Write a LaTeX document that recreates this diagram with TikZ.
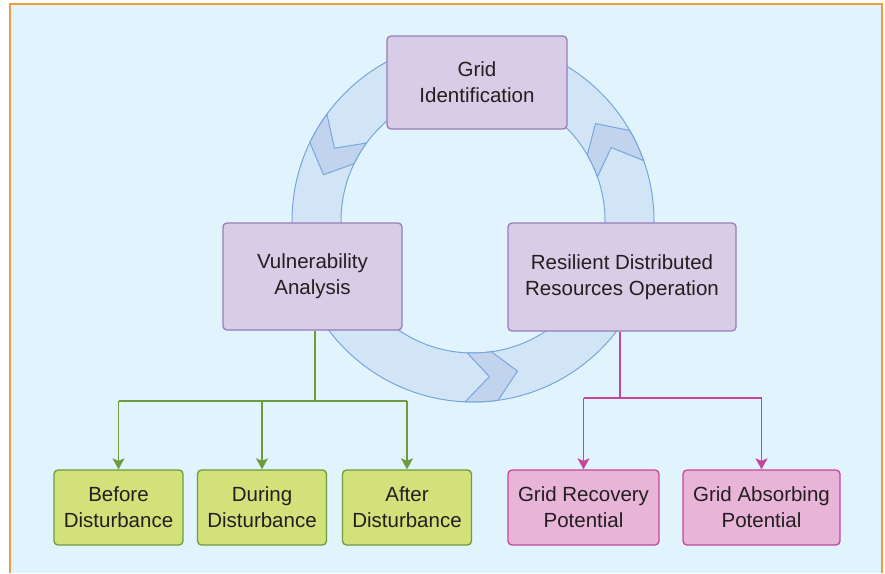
\documentclass[tikz,border=0pt]{standalone}
\usepackage{fontspec}
\setmainfont{Liberation Sans}
\usetikzlibrary{arrows.meta}
\definecolor{bg}{HTML}{E1F3FD}
\definecolor{framec}{HTML}{F69A3F}
\definecolor{ringfill}{HTML}{D2E5F6}
\definecolor{ringline}{HTML}{78A6DB}
\definecolor{chevfill}{HTML}{C2D3EE}
\definecolor{lavfill}{HTML}{D8CCE6}
\definecolor{lavline}{HTML}{9A7DBA}
\definecolor{grfill}{HTML}{D3E17A}
\definecolor{grline}{HTML}{6C9C3C}
\definecolor{pkfill}{HTML}{E8B4D8}
\definecolor{pkline}{HTML}{C4479C}
\definecolor{txt}{HTML}{231F20}
\newcommand\mychev[1]{\filldraw[fill=chevfill, draw=ringline, line width=1pt, line join=round]
  (#1:132) -- ({#1+8.5}:156.5) -- (#1:181)
  arc[start angle=#1, end angle={#1+10.5}, radius=181]
  -- ({#1+19}:156.5) -- ({#1+10.5}:132)
  arc[start angle={#1+10.5}, end angle=#1, radius=132] -- cycle;}
\begin{document}
\begin{tikzpicture}[x=1pt,y=-1pt,
  box/.style={draw, line width=1.3pt, rounded corners=4pt, align=center, inner sep=0pt,
    text=txt, font=\fontsize{20.5}{26}\selectfont},
  lav/.style={box, draw=lavline, fill=lavfill},
  grn/.style={box, draw=grline, fill=grfill, minimum width=129pt, minimum height=75pt},
  pnk/.style={box, draw=pkline, fill=pkfill, minimum height=75pt},
  gline/.style={draw=grline, line width=1.5pt},
  pline/.style={draw=pkline, line width=1.5pt},
  tip/.style={-{Stealth[width=12pt,length=11pt,inset=2.5pt]}}
]
\useasboundingbox (0,0) rectangle (885,573);
\fill[white] (0,0) rectangle (885,573);
\fill[bg] (10,4) rectangle (882,573);
\draw[framec, line width=2.8pt] (10,573) -- (10,4) -- (882,4) -- (882,573);

% ring
\begin{scope}[shift={(473,221)}, yscale=-1]
  \fill[ringfill, even odd rule] (0,0) circle[radius=181] (0,0) circle[radius=132];
  \draw[ringline, line width=1pt] (0,0) circle[radius=181] (0,0) circle[radius=132];
  \mychev{-92.5}
  \mychev{19.5}
  \mychev{143.8}
\end{scope}

% boxes
\node[lav, minimum width=180pt, minimum height=93pt] (gi) at (477,82.5) {Grid\\Identification};
\node[lav, minimum width=179pt, minimum height=107pt] (va) at (312.5,276.5) {Vulnerability\\Analysis};
\node[lav, minimum width=228pt, minimum height=108pt] (rd) at (622,277) {Resilient Distributed\\Resources Operation};

\node[grn] (bd) at (118.5,507.5) {Before\\Disturbance};
\node[grn] (dd) at (262,507.5) {During\\Disturbance};
\node[grn] (ad) at (407,507.5) {After\\Disturbance};
\node[pnk, minimum width=151pt] (gr) at (583.5,507.5) {Grid Recovery\\Potential};
\node[pnk, minimum width=157pt] (ga) at (761.5,507.5) {Grid Absorbing\\Potential};

% connectors
\coordinate (gj) at (315,401);
\coordinate (pj) at (620,398);
\draw[gline] (va.south -| gj) -- (gj);
\draw[gline] (bd.north |- gj) -- (ad.north |- gj);
\draw[gline, tip] (bd.north |- gj) -- (bd.north);
\draw[gline, tip] (dd.north |- gj) -- (dd.north);
\draw[gline, tip] (ad.north |- gj) -- (ad.north);
\draw[pline] (rd.south -| pj) -- (pj);
\draw[pline] (gr.north |- pj) -- (ga.north |- pj);
\draw[pline, tip] (gr.north |- pj) -- (gr.north);
\draw[pline, tip] (ga.north |- pj) -- (ga.north);
\end{tikzpicture}
\end{document}
